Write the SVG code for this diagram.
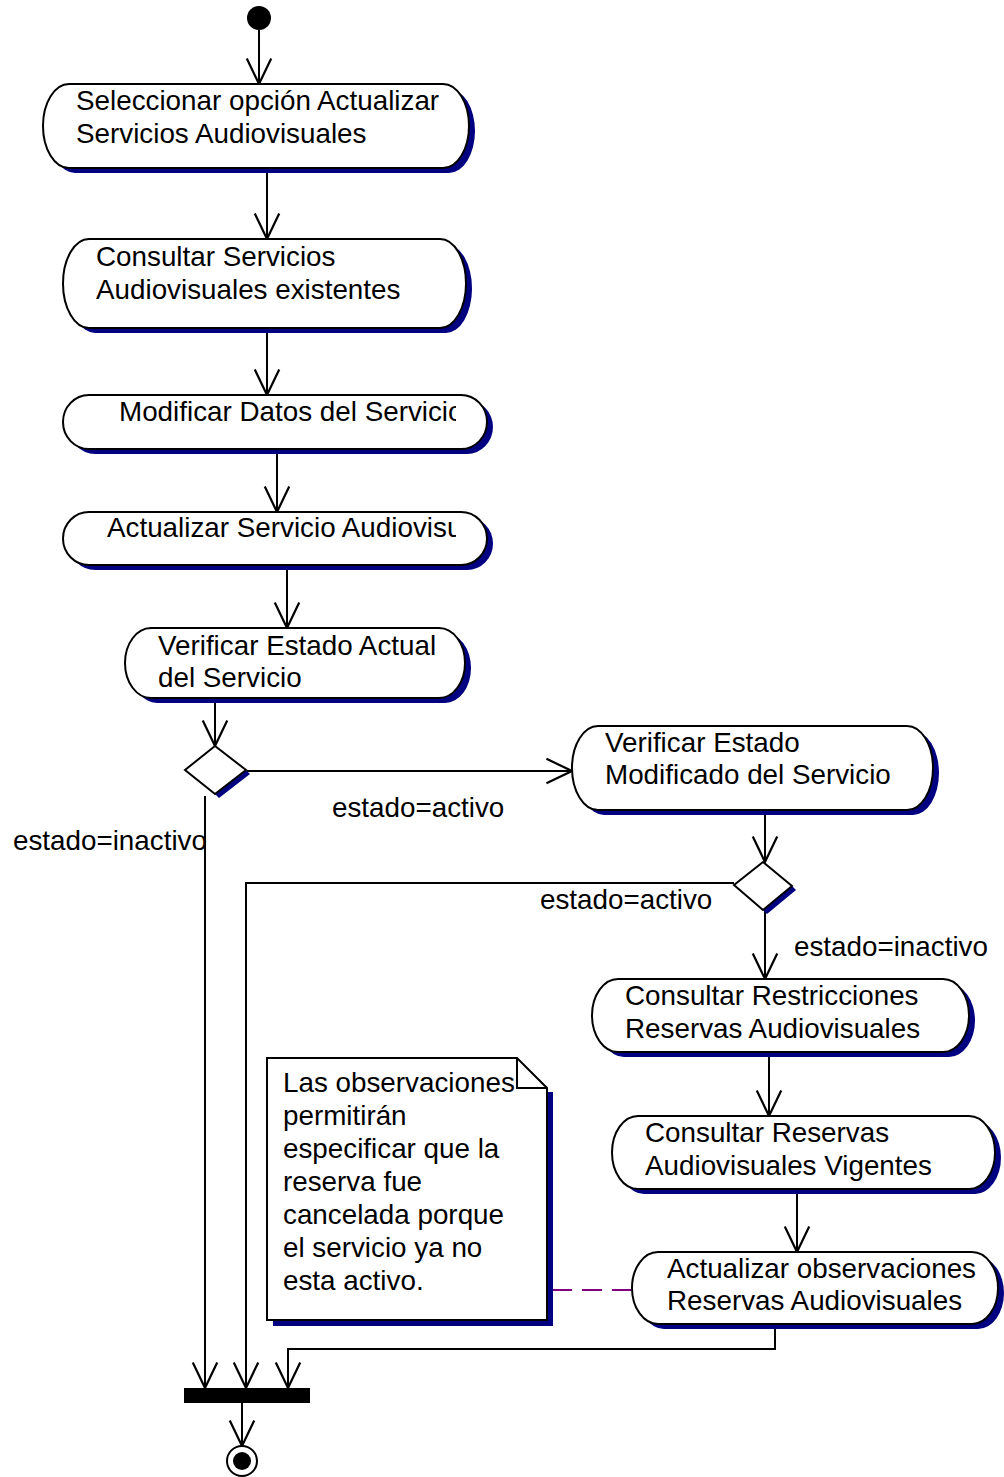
<svg xmlns="http://www.w3.org/2000/svg" width="1004" height="1477" viewBox="0 0 1004 1477">
<style>
text{font-family:"Liberation Sans",Arial,sans-serif;font-size:27.8px;fill:#000}
.sh{fill:#000080;stroke:none}
.bx{fill:#fff;stroke:#000;stroke-width:2}
.ln{fill:none;stroke:#000;stroke-width:2}
.ar{fill:none;stroke:#000;stroke-width:2;marker-end:url(#ah)}
</style>
<defs>
<marker id="ah" markerUnits="userSpaceOnUse" markerWidth="30" markerHeight="30" refX="0" refY="0" viewBox="-25 -13 27 26" orient="auto" overflow="visible">
<path d="M-23,-11 L0,0 L-23,11" fill="none" stroke="#000" stroke-width="2"/>
</marker>
<clipPath id="c3"><rect x="60" y="390" width="396" height="70"/></clipPath>
<clipPath id="c4"><rect x="60" y="505" width="396" height="70"/></clipPath>
</defs>

<g id="connectors">
<line class="ar" x1="259" y1="30" x2="259" y2="84"/>
<line class="ar" x1="267" y1="170" x2="267" y2="239"/>
<line class="ar" x1="267" y1="330" x2="267" y2="395"/>
<line class="ar" x1="277" y1="451" x2="277" y2="512"/>
<line class="ar" x1="287" y1="567" x2="287" y2="628"/>
<line class="ar" x1="215" y1="700" x2="215" y2="746"/>
<line class="ar" x1="247" y1="771" x2="572" y2="771"/>
<line class="ar" x1="205" y1="796" x2="205" y2="1388"/>
<line class="ar" x1="765" y1="813" x2="765" y2="862"/>
<polyline class="ar" points="734,883 246,883 246,1388"/>
<line class="ar" x1="765" y1="911" x2="765" y2="979"/>
<line class="ar" x1="769" y1="1055" x2="769" y2="1116"/>
<line class="ar" x1="797" y1="1192" x2="797" y2="1252"/>
<polyline class="ar" points="775,1327 775,1349 288,1349 288,1388"/>
<line class="ar" x1="242" y1="1403" x2="242" y2="1446"/>
<line x1="552" y1="1290" x2="632" y2="1290" stroke="#800080" stroke-width="2" stroke-dasharray="20,10"/>
<text x="332" y="817">estado=activo</text>
<text x="13" y="850">estado=inactivo</text>
<text x="540" y="909">estado=activo</text>
<text x="794" y="956">estado=inactivo</text>
</g>

<g id="start"><circle cx="259" cy="18" r="12" fill="#000"/></g>

<g id="n1">
<rect class="sh" x="49" y="89" width="426" height="84" rx="26" ry="42"/>
<rect class="bx" x="43" y="84" width="426" height="84" rx="26" ry="42"/>
<text x="76" y="110">Seleccionar opción Actualizar</text>
<text x="76" y="143">Servicios Audiovisuales</text>
</g>

<g id="n2">
<rect class="sh" x="69" y="244" width="403" height="89" rx="26" ry="44.5"/>
<rect class="bx" x="63" y="239" width="403" height="89" rx="26" ry="44.5"/>
<text x="96" y="266">Consultar Servicios</text>
<text x="96" y="299">Audiovisuales existentes</text>
</g>

<g id="n3">
<rect class="sh" x="69" y="400" width="424" height="54" rx="26" ry="27"/>
<rect class="bx" x="63" y="395" width="424" height="54" rx="26" ry="27"/>
<text x="119" y="421" clip-path="url(#c3)">Modificar Datos del Servicio</text>
</g>

<g id="n4">
<rect class="sh" x="69" y="517" width="424" height="53" rx="26" ry="26.5"/>
<rect class="bx" x="63" y="512" width="424" height="53" rx="26" ry="26.5"/>
<text x="107" y="537" clip-path="url(#c4)">Actualizar Servicio Audiovisual</text>
</g>

<g id="n5">
<rect class="sh" x="131" y="633" width="340" height="70" rx="26" ry="35"/>
<rect class="bx" x="125" y="628" width="340" height="70" rx="26" ry="35"/>
<text x="158" y="655">Verificar Estado Actual</text>
<text x="158" y="687">del Servicio</text>
</g>

<g id="d1">
<polygon class="sh" points="215,794 246,770 250,774 219,798"/>
<polygon class="bx" points="215,746 246,770 215,794 185,770"/>
</g>

<g id="n6">
<rect class="sh" x="578" y="731" width="361" height="84" rx="26" ry="42"/>
<rect class="bx" x="572" y="726" width="361" height="84" rx="26" ry="42"/>
<text x="605" y="752">Verificar Estado</text>
<text x="605" y="784">Modificado del Servicio</text>
</g>

<g id="d2">
<polygon class="sh" points="763,910 792,886 796,890 767,914"/>
<polygon class="bx" points="763,862 792,886 763,910 734,885"/>
</g>

<g id="n7">
<rect class="sh" x="598" y="984" width="377" height="73" rx="26" ry="36.5"/>
<rect class="bx" x="592" y="979" width="377" height="73" rx="26" ry="36.5"/>
<text x="625" y="1005">Consultar Restricciones</text>
<text x="625" y="1038">Reservas Audiovisuales</text>
</g>

<g id="n8">
<rect class="sh" x="618" y="1121" width="383" height="73" rx="26" ry="36.5"/>
<rect class="bx" x="612" y="1116" width="383" height="73" rx="26" ry="36.5"/>
<text x="645" y="1142">Consultar Reservas</text>
<text x="645" y="1175">Audiovisuales Vigentes</text>
</g>

<g id="n9">
<rect class="sh" x="638" y="1257" width="366" height="72" rx="26" ry="36"/>
<rect class="bx" x="632" y="1252" width="366" height="72" rx="26" ry="36"/>
<text x="667" y="1278">Actualizar observaciones</text>
<text x="667" y="1310">Reservas Audiovisuales</text>
</g>

<g id="note">
<polygon class="sh" points="547,1092 553,1092 553,1326 273,1326 273,1320 547,1320"/>
<polygon class="bx" points="267,1058 517,1058 547,1088 547,1320 267,1320"/>
<polyline class="ln" points="517,1058 517,1088 547,1088"/>
<text x="283" y="1092">Las observaciones</text>
<text x="283" y="1125">permitirán</text>
<text x="283" y="1158">especificar que la</text>
<text x="283" y="1191">reserva fue</text>
<text x="283" y="1224">cancelada porque</text>
<text x="283" y="1257">el servicio ya no</text>
<text x="283" y="1290">esta activo.</text>
</g>

<g id="fork"><rect x="184" y="1388" width="126" height="15" fill="#000"/></g>

<g id="end">
<circle cx="242" cy="1461" r="15" fill="#fff" stroke="#000" stroke-width="2"/>
<circle cx="242" cy="1461" r="9" fill="#000"/>
</g>
</svg>
